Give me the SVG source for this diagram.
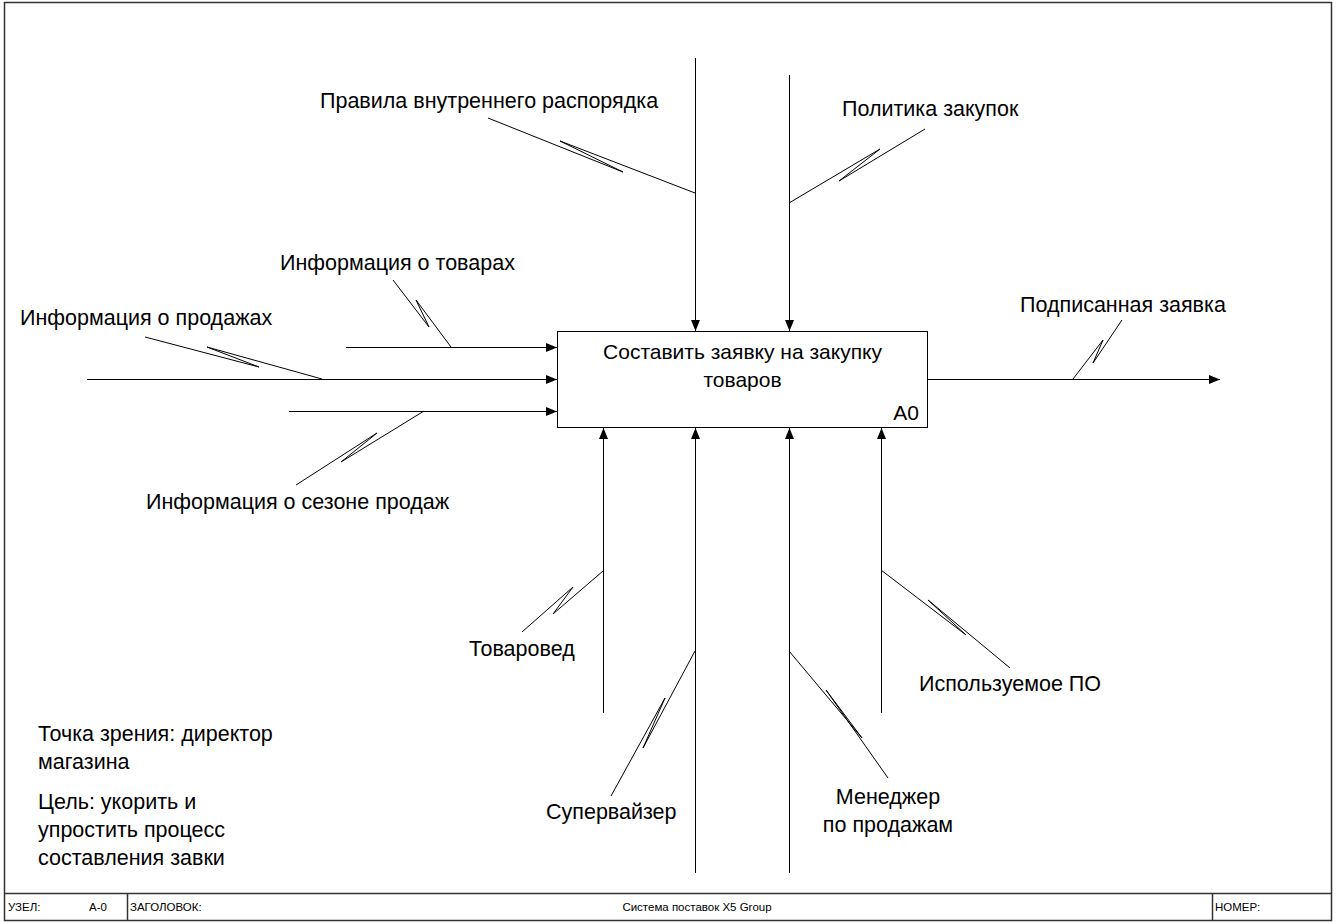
<svg xmlns="http://www.w3.org/2000/svg" width="1336" height="923" viewBox="0 0 1336 923">
<style>
.t{font-family:"Liberation Sans",Arial,sans-serif;font-size:21.5px;fill:#000}
.b{font-family:"Liberation Sans",Arial,sans-serif;font-size:21px;fill:#000}
.f{font-family:"Liberation Sans",Arial,sans-serif;font-size:11.5px;fill:#000}
.c{fill:none;stroke:#000;stroke-width:1}
.a{fill:none;stroke:#000;stroke-width:1;marker-end:url(#ah)}
.fr{fill:none;stroke:#333;stroke-width:1.5}
</style>
<defs>
<marker id="ah" markerUnits="userSpaceOnUse" markerWidth="12" markerHeight="10" refX="11" refY="4.5" orient="auto">
<path d="M0,0 L11,4.5 L0,9 Z" fill="#000"/>
</marker>
</defs>
<rect width="1336" height="923" fill="#fff"/>
<g id="frame">
<rect class="fr" x="4.5" y="2.5" width="1327" height="918"/>
<line class="fr" x1="4.5" y1="893.5" x2="1331.5" y2="893.5"/>
<line class="fr" x1="127.5" y1="893.5" x2="127.5" y2="920.5"/>
<line class="fr" x1="1212.5" y1="893.5" x2="1212.5" y2="920.5"/>
<text class="f" x="8" y="911">УЗЕЛ:</text>
<text class="f" x="89" y="911">A-0</text>
<text class="f" x="130" y="911">ЗАГОЛОВОК:</text>
<text class="f" x="697" y="911" text-anchor="middle">Система поставок X5 Group</text>
<text class="f" x="1215" y="911">НОМЕР:</text>
</g>
<g id="A0">
<rect x="557.5" y="331.5" width="370" height="96" fill="#fff" stroke="#000" stroke-width="1"/>
<text class="b" x="742.5" y="359" text-anchor="middle">Составить заявку на закупку</text>
<text class="b" x="742.5" y="387" text-anchor="middle">товаров</text>
<text class="b" x="919" y="420" text-anchor="end">A0</text>
</g>
<g id="connectors">
<line class="a" x1="695.5" y1="58" x2="695.5" y2="331"/>
<line class="a" x1="789.5" y1="75" x2="789.5" y2="331"/>
<line class="a" x1="346" y1="347.5" x2="557" y2="347.5"/>
<line class="a" x1="87" y1="379.5" x2="557" y2="379.5"/>
<line class="a" x1="289" y1="411.5" x2="557" y2="411.5"/>
<line class="a" x1="928" y1="379.5" x2="1220" y2="379.5"/>
<line class="a" x1="603.5" y1="713" x2="603.5" y2="428"/>
<line class="a" x1="695.5" y1="873" x2="695.5" y2="428"/>
<line class="a" x1="789.5" y1="873" x2="789.5" y2="428"/>
<line class="a" x1="881.5" y1="713" x2="881.5" y2="428"/>
<path class="c" d="M488,118 L623,172 L560,141 L695,193"/>
<path class="c" d="M925,129 L839,181 L880,149 L789,203"/>
<path class="c" d="M393,280 L429,327 L416,300 L451,347"/>
<path class="c" d="M145,337 L259,367 L207,347 L322,379"/>
<path class="c" d="M296,485 L377,433 L341,462 L424,411"/>
<path class="c" d="M1122,320 L1093,363 L1103,340 L1073,379"/>
<path class="c" d="M522,632 L573,587 L553,614 L603,571"/>
<path class="c" d="M611,796 L665,698 L643,748 L695,651"/>
<path class="c" d="M888,778 L826,690 L862,738 L789,651"/>
<path class="c" d="M1010,668 L928,600 L966,635 L881,570"/>
</g>
<g id="labels">
<text class="t" x="320" y="108">Правила внутреннего распорядка</text>
<text class="t" x="842" y="116">Политика закупок</text>
<text class="t" x="280" y="270">Информация о товарах</text>
<text class="t" x="20" y="325">Информация о продажах</text>
<text class="t" x="1020" y="312">Подписанная заявка</text>
<text class="t" x="146" y="509">Информация о сезоне продаж</text>
<text class="t" x="469" y="656">Товаровед</text>
<text class="t" x="919" y="691">Используемое ПО</text>
<text class="t" x="546" y="819">Супервайзер</text>
<text class="t" x="888" y="804" text-anchor="middle">Менеджер</text>
<text class="t" x="888" y="832" text-anchor="middle">по продажам</text>
</g>
<g id="notes">
<text class="t" x="38" y="741">Точка зрения: директор</text>
<text class="t" x="38" y="769">магазина</text>
<text class="t" x="38" y="809">Цель: укорить и</text>
<text class="t" x="38" y="837">упростить процесс</text>
<text class="t" x="38" y="865">составления завки</text>
</g>
</svg>
